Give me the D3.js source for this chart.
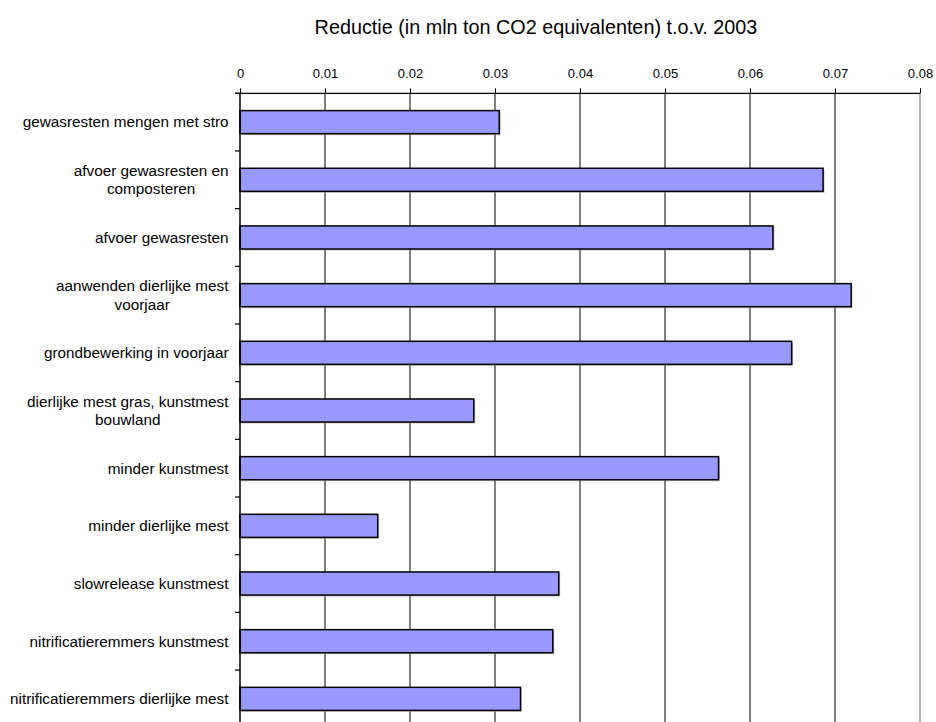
<!DOCTYPE html>
<html><head><meta charset="utf-8">
<script src="https://cdn.jsdelivr.net/npm/d3@7"></script>
<style>body{margin:0;background:#fff;} text{font-family:"Liberation Sans",Arial,sans-serif;fill:#000;}</style>
</head><body>
<svg id="chart" width="936" height="722"></svg>
<script>
const categories = [
  ["gewasresten mengen met stro"],
  ["afvoer gewasresten en", "composteren"],
  ["afvoer gewasresten"],
  ["aanwenden dierlijke mest", "voorjaar"],
  ["grondbewerking in voorjaar"],
  ["dierlijke mest gras, kunstmest", "bouwland"],
  ["minder kunstmest"],
  ["minder dierlijke mest"],
  ["slowrelease kunstmest"],
  ["nitrificatieremmers kunstmest"],
  ["nitrificatieremmers dierlijke mest"]
];
const values = [0.0305, 0.0686, 0.0627, 0.0719, 0.0649, 0.0275, 0.0563, 0.0162, 0.0375, 0.0368, 0.0330];
const tickValues = [0, 0.01, 0.02, 0.03, 0.04, 0.05, 0.06, 0.07, 0.08];
const title = "Reductie (in mln ton CO2 equivalenten) t.o.v. 2003";

const svg = d3.select("#chart");
const pLeft = 240, pRight = 920, pTop = 93.3, pBottom = 727.7;
const keys = categories.map((c, i) => i);
const x = d3.scaleLinear().domain([0, 0.08]).range([pLeft, pRight]);
const y = d3.scaleBand().domain(keys).range([pTop, pBottom]).padding(0);
const bw = y.bandwidth();

// gridlines
svg.append("g").selectAll("line").data(tickValues.filter(t => t > 0 && t < 0.08)).join("line")
  .attr("x1", d => x(d)).attr("x2", d => x(d)).attr("y1", pTop).attr("y2", pBottom)
  .attr("stroke", "#000").attr("stroke-width", 1);
// right border
svg.append("line").attr("x1", x(0.08)).attr("x2", x(0.08)).attr("y1", pTop).attr("y2", pBottom)
  .attr("stroke", "#808080").attr("stroke-width", 1.2);

// bar shadows
svg.append("g").selectAll("rect").data(values).join("rect")
  .attr("x", x(0) + 1.5).attr("y", (d, i) => y(i) + bw * 0.3 + 1.5)
  .attr("width", d => x(d) - x(0)).attr("height", bw * 0.4)
  .attr("fill", "#999").attr("opacity", 0.6);
// bars
svg.append("g").selectAll("rect").data(values).join("rect")
  .attr("x", x(0)).attr("y", (d, i) => y(i) + bw * 0.3)
  .attr("width", d => x(d) - x(0)).attr("height", bw * 0.4)
  .attr("fill", "#9999FF").attr("stroke", "#000").attr("stroke-width", 1.5);

// top axis
const xAxis = d3.axisTop(x).tickValues(tickValues).tickSize(5).tickPadding(10)
  .tickFormat(d => d === 0 ? "0" : d3.format(".2f")(d));
const gx = svg.append("g").attr("transform", `translate(0,${pTop})`).call(xAxis);
gx.select(".domain").attr("stroke", "#000").attr("stroke-width", 1.2).attr("d", `M${pLeft - 5},0H${pRight}`);
gx.selectAll(".tick line").attr("stroke", "#000");
gx.selectAll("text").attr("font-size", "13px").attr("font-family", "Liberation Sans, Arial, sans-serif").attr("fill", "#000");

// left axis with ticks at band boundaries
const bounds = keys.map(k => y(k)).concat([pBottom]);
svg.append("line").attr("x1", pLeft).attr("x2", pLeft).attr("y1", pTop).attr("y2", pBottom)
  .attr("stroke", "#000").attr("stroke-width", 1.5);
svg.append("g").selectAll("line").data(bounds).join("line")
  .attr("x1", pLeft - 5).attr("x2", pLeft).attr("y1", d => d).attr("y2", d => d)
  .attr("stroke", "#000").attr("stroke-width", 1.2);

// category labels
const labelRight = 228.5, lineH = 18.3, fs = 15.3;
const lg = svg.append("g");
categories.forEach((lines, i) => {
  const cy = y(i) + bw / 2;
  const t = lg.append("text").attr("font-size", fs + "px");
  const tspans = lines.map((ln, j) => t.append("tspan").text(ln)
    .attr("y", cy + (j - (lines.length - 1) / 2) * lineH).attr("dy", "0.35em"));
  const maxW = d3.max(tspans, s => s.node().getComputedTextLength());
  const cx = labelRight - maxW / 2;
  t.attr("text-anchor", "middle");
  tspans.forEach(s => s.attr("x", cx));
});

// title
svg.append("text").attr("x", 536).attr("y", 34).attr("text-anchor", "middle")
  .attr("font-size", "19.8px").text(title);
</script>
</body></html>
